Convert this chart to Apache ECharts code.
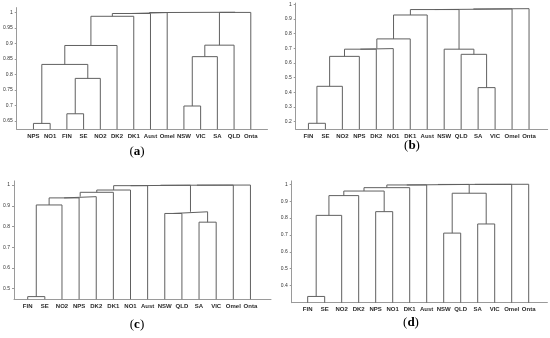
<!DOCTYPE html>
<html>
<head>
<meta charset="utf-8">
<script src="https://cdn.jsdelivr.net/npm/echarts@6/dist/echarts.min.js"></script>
<style>html,body{margin:0;padding:0;background:#fff}#c{width:550px;height:338px}</style>
</head>
<body>
<div id="c"></div>
<script>
// ---- data ----
const leavesA = ['NPS','NO1','FIN','SE','NO2','DK2','DK1','Aust','Omel','NSW','VIC','SA','QLD','Onta'];
const mergesA = [
  ['NPS','NO1',0.642], ['FIN','SE',0.673], ['c2','NO2',0.787], ['c1','c3',0.832],
  ['c4','DK2',0.893], ['c5','DK1',0.987], ['c6','Aust',0.996], ['c7','Omel',0.999],
  ['NSW','VIC',0.698], ['c9','SA',0.857], ['c10','QLD',0.894], ['c11','Onta',0.9995],
  ['c8','c12',1.0]
];
const ticksA = [0.65,0.7,0.75,0.8,0.85,0.9,0.95,1];

const leavesB = ['FIN','SE','NO2','NPS','DK2','NO1','DK1','Aust','NSW','QLD','SA','VIC','Omel','Onta'];
const mergesB = [
  ['FIN','SE',0.189], ['c1','NO2',0.441], ['c2','NPS',0.645], ['c3','DK2',0.694],
  ['c4','NO1',0.698], ['c5','DK1',0.764], ['c6','Aust',0.927], ['SA','VIC',0.432],
  ['QLD','c8',0.659], ['NSW','c9',0.694], ['c7','c10',0.964], ['c11','Omel',0.968],
  ['c12','Onta',0.970]
];
const ticksB = [0.2,0.3,0.4,0.5,0.6,0.7,0.8,0.9,1];

const leavesC = ['FIN','SE','NO2','NPS','DK2','DK1','NO1','Aust','NSW','QLD','SA','VIC','Omel','Onta'];
const mergesC = [
  ['FIN','SE',0.462], ['c1','NO2',0.904], ['c2','NPS',0.938], ['c3','DK2',0.944],
  ['c4','DK1',0.965], ['c5','NO1',0.976], ['c6','Aust',0.997], ['NSW','QLD',0.863],
  ['SA','VIC',0.821], ['c8','c9',0.871], ['c7','c10',0.999], ['c11','Omel',0.9995],
  ['c12','Onta',1.0]
];
const ticksC = [0.5,0.6,0.7,0.8,0.9,1];

const leavesD = ['FIN','SE','NO2','DK2','NPS','NO1','DK1','Aust','NSW','QLD','SA','VIC','Omel','Onta'];
const mergesD = [
  ['FIN','SE',0.336], ['c1','NO2',0.816], ['c2','DK2',0.933], ['NPS','NO1',0.838],
  ['c3','c4',0.960], ['c5','DK1',0.980], ['c6','Aust',0.996], ['NSW','QLD',0.711],
  ['SA','VIC',0.765], ['c8','c9',0.947], ['c7','c10',0.999], ['c11','Omel',0.9995],
  ['c12','Onta',1.0]
];
const ticksD = [0.4,0.5,0.6,0.7,0.8,0.9,1];

const captions = ['a','b','c','d'];

// ---- layout ----
const panels = [
  {leaves: leavesA, merges: mergesA, ticks: ticksA, grid: {left: 14, top: 7.6, width: 253.5, height: 121.7}, x: [0, 15], y: [0.623, 1.015], cap: [137, 152]},
  {leaves: leavesB, merges: mergesB, ticks: ticksB, grid: {left: 295.7, top: 3.1, width: 252, height: 126.2}, x: [0.25, 15.1], y: [0.148, 1.008], cap: [412, 146]},
  {leaves: leavesC, merges: mergesC, ticks: ticksC, grid: {left: 14, top: 180.9, width: 257, height: 118.4}, x: [0.2, 15.2], y: [0.449, 1.02], cap: [137, 325]},
  {leaves: leavesD, merges: mergesD, ticks: ticksD, grid: {left: 291.7, top: 180.9, width: 255.7, height: 121.8}, x: [0.06, 15.1], y: [0.299, 1.02], cap: [411, 323]}
];

function buildLinks(leaves, merges, base) {
  const pos = {}, h = {}, links = [];
  leaves.forEach((n, i) => { pos[n] = i + 1; h[n] = base; });
  merges.forEach((m, i) => {
    const [a, b, hh] = m;
    links.push([[pos[a], h[a]], [pos[a], hh], [pos[b], hh], [pos[b], h[b]]]);
    const id = 'c' + (i + 1);
    pos[id] = (pos[a] + pos[b]) / 2;
    h[id] = hh;
  });
  return links;
}

const grids = [], xAxes = [], yAxes = [], series = [], graphics = [];
panels.forEach((p, gi) => {
  grids.push(Object.assign({containLabel: false}, p.grid));
  const leafIdx = p.leaves.map((_, i) => i + 1);
  xAxes.push({
    type: 'value', gridIndex: gi, min: p.x[0], max: p.x[1],
    splitLine: {show: false},
    axisLine: {show: true, lineStyle: {color: '#9a9a9a', width: 1}},
    axisTick: {show: false},
    axisLabel: {
      customValues: leafIdx, margin: 4,
      fontSize: 6, fontWeight: 'bold', color: '#2a2a2a', fontFamily: 'Liberation Sans',
      formatter: v => p.leaves[Math.round(v) - 1] || ''
    }
  });
  yAxes.push({
    type: 'value', gridIndex: gi, min: p.y[0], max: p.y[1],
    splitLine: {show: false},
    axisLine: {show: true, lineStyle: {color: '#9a9a9a', width: 1}},
    axisTick: {show: true, customValues: p.ticks, length: 2, lineStyle: {color: '#9a9a9a'}},
    axisLabel: {
      customValues: p.ticks, margin: 4,
      fontSize: 5, color: '#333', fontFamily: 'Liberation Sans',
      formatter: v => String(+(+v).toFixed(2))
    }
  });
  buildLinks(p.leaves, p.merges, p.y[0]).forEach(link => {
    series.push({
      type: 'line', xAxisIndex: gi, yAxisIndex: gi, data: link,
      showSymbol: false, symbol: 'none', silent: true,
      lineStyle: {color: '#606060', width: 1}
    });
  });
  graphics.push({
    type: 'text', x: p.cap[0], y: p.cap[1],
    style: {
      text: '{p|(}{b|' + captions[gi] + '}{p|)}',
      textAlign: 'center', textVerticalAlign: 'middle',
      rich: {
        p: {fontFamily: 'Liberation Serif', fontSize: 13, fill: '#000'},
        b: {fontFamily: 'Liberation Serif', fontSize: 13, fontWeight: 'bold', fill: '#000'}
      }
    }
  });
});

const chart = echarts.init(document.getElementById('c'), null, {renderer: 'canvas'});
chart.setOption({
  animation: false,
  backgroundColor: '#fff',
  grid: grids, xAxis: xAxes, yAxis: yAxes, series: series,
  graphic: graphics
});
</script>
</body>
</html>
